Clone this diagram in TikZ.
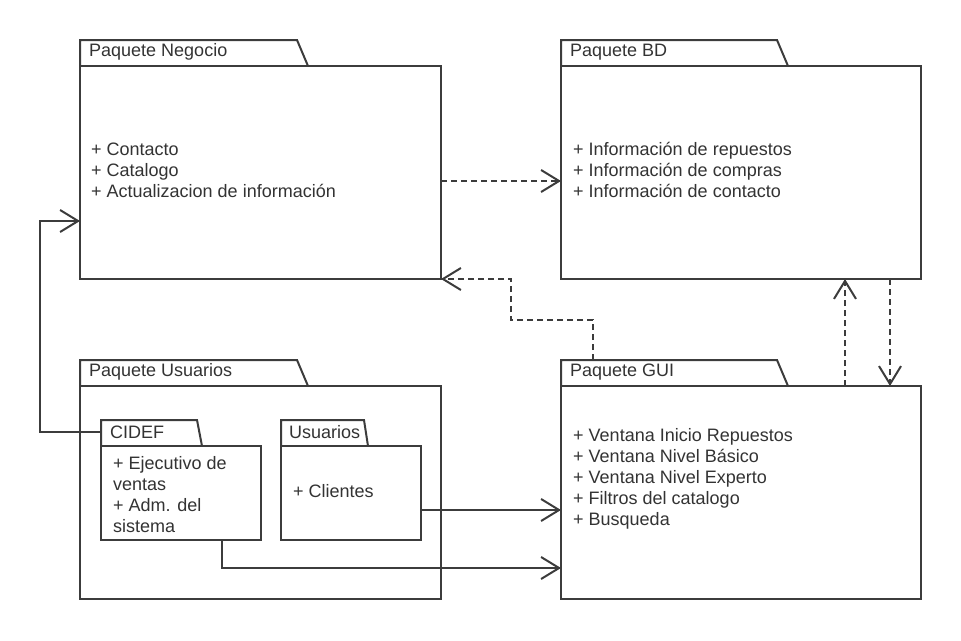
\documentclass[tikz,border=0pt]{standalone}
\usepackage{fontspec}
\setmainfont{Liberation Sans}
\usetikzlibrary{arrows.meta}
\definecolor{ln}{HTML}{3C3C3C}
\definecolor{tx}{HTML}{333333}
\tikzset{
  pkgbody/.style={draw=ln, line width=2pt, fill=white, inner sep=0pt, outer sep=0pt, anchor=north west},
  pkgtab/.style={draw=ln, line width=2pt, line join=miter},
  lbl/.style={text=tx, anchor=west, inner sep=0pt, font=\fontsize{18}{21}\selectfont, align=left},
  conn/.style={draw=ln, line width=2pt, -{Straight Barb[length=18pt,width=22pt,line width=2pt]}},
  dep/.style={conn, dash pattern=on 6pt off 4pt}
}
\begin{document}
\begin{tikzpicture}[x=1pt,y=-1pt]
\useasboundingbox (0,0) rectangle (961,640);
% Paquete Negocio
\draw[pkgtab] (80,66) -- (80,40) -- (297,40) -- (308,66);
\node[pkgbody, minimum width=361pt, minimum height=213pt] (neg) at (80,66) {};
\node[lbl] (negt) at (89,52) {Paquete Negocio};
\node[lbl] (negi) at (91,170) {+ Contacto\\+ Catalogo\\+ Actualizacion de información};
% Paquete BD
\draw[pkgtab] (561,66) -- (561,40) -- (777,40) -- (788,66);
\node[pkgbody, minimum width=360pt, minimum height=213pt] (bd) at (561,66) {};
\node[lbl] (bdt) at (570,52) {Paquete BD};
\node[lbl] (bdi) at (573,170) {+ Información de repuestos\\+ Información de compras\\+ Información de contacto};
% Paquete Usuarios
\draw[pkgtab] (80,386) -- (80,360) -- (297,360) -- (308,386);
\node[pkgbody, minimum width=361pt, minimum height=213pt] (usu) at (80,386) {};
\node[lbl] (usut) at (89,372) {Paquete Usuarios};
% CIDEF
\draw[pkgtab] (101,446) -- (101,420) -- (197,420) -- (202,446);
\node[pkgbody, minimum width=160pt, minimum height=94pt] (cid) at (101,446) {};
\node[lbl] (cidt) at (110,432) {CIDEF};
\node[lbl] (cidi) at (113,495) {+ Ejecutivo de\\ventas\\+ Adm. del\\sistema};
\coordinate (cidtab) at (101,432);
% Usuarios inner
\draw[pkgtab] (281,446) -- (281,420) -- (364,420) -- (368,446);
\node[pkgbody, minimum width=140pt, minimum height=94pt] (cli) at (281,446) {};
\node[lbl] (clit) at (289,432) {Usuarios};
\node[lbl] (clii) at (293,491) {+ Clientes};
% Paquete GUI
\draw[pkgtab] (561,386) -- (561,360) -- (777,360) -- (788,386);
\node[pkgbody, minimum width=360pt, minimum height=213pt] (gui) at (561,386) {};
\node[lbl] (guit) at (570,372) {Paquete GUI};
\node[lbl] (guii) at (573,479) {+ Ventana Inicio Repuestos\\+ Ventana Nivel Básico\\+ Ventana Nivel Experto\\+ Filtros del catalogo\\+ Busqueda};
\coordinate (guitab) at (593,360);
% connectors
\draw[dep] ([yshift=-8.5pt]neg.east) -- ([yshift=-8.5pt]bd.west);
\draw[dep] (guitab) -- (593,320) -- (511,320) -- (511,279) -- (neg.south east);
\draw[dep] ([xshift=104pt]gui.north) -- ([xshift=104pt]bd.south);
\draw[dep] ([xshift=149pt]bd.south) -- ([xshift=149pt]gui.north);
\draw[conn] (cidtab) -- (40,432) -- (40,221) -- ([yshift=-48.5pt]neg.west);
\draw[conn] ([yshift=-17pt]cli.east) -- ([yshift=-17pt]cli.east -| gui.west);
\draw[conn] ([xshift=41pt]cid.south) -- (222,568) -- (gui.west |- 0,568);
\end{tikzpicture}
\end{document}
